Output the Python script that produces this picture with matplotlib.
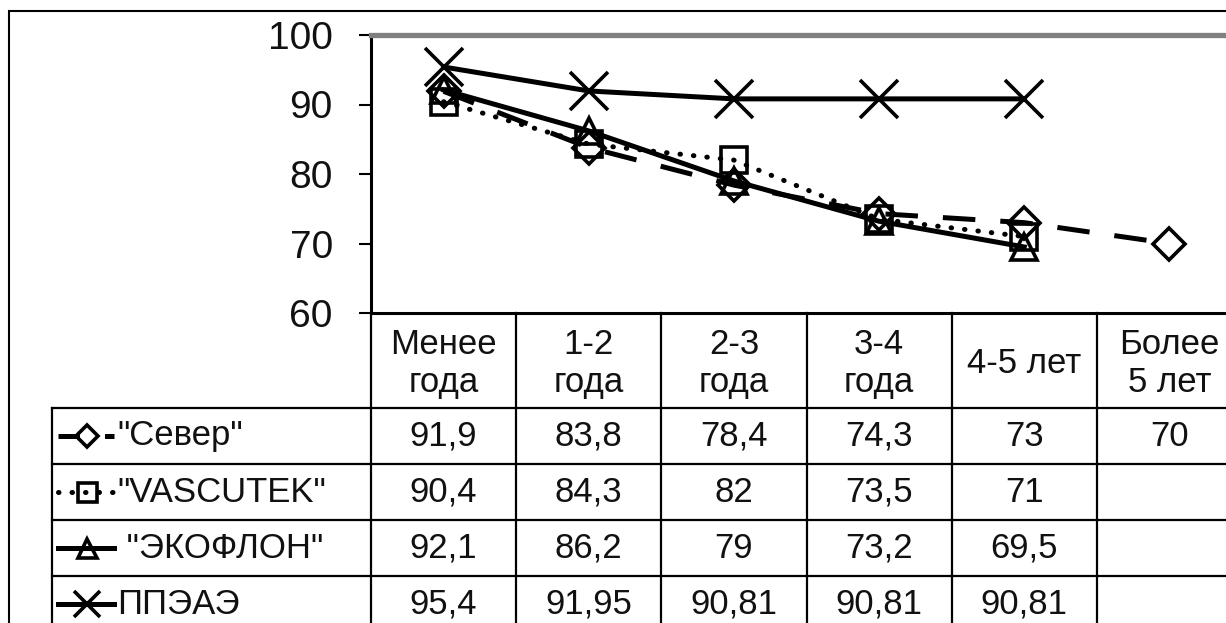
import numpy as np
import matplotlib.pyplot as plt
import matplotlib.transforms as mtransforms

plt.rcParams['font.family'] = ['Liberation Sans', 'DejaVu Sans']

# categories (column headers of the data table)
periods = ['Менее\nгода', '1-2\nгода', '2-3\nгода', '3-4\nгода', '4-5 лет', 'Более\n5 лет']

# series values
sever = [91.9, 83.8, 78.4, 74.3, 73, 70]
vascutek = [90.4, 84.3, 82, 73.5, 71, np.nan]
ekoflon = [92.1, 86.2, 79, 73.2, 69.5, np.nan]
ppeae = [95.4, 91.95, 90.81, 90.81, 90.81, np.nan]

names = ['"Север"', '"VASCUTEK"', ' "ЭКОФЛОН"', 'ППЭАЭ']
series = [sever, vascutek, ekoflon, ppeae]

# line / marker styles for each series
styles = [
    dict(ls=(0, (6.5, 5)), marker='D', ms=16),
    dict(ls=(0, (0.1, 2.6)), marker='s', ms=19, dash_capstyle='round'),
    dict(ls='-', marker='^', ms=19),
    dict(ls='-', marker='x', ms=27),
]
# legend keys in the table (Север key shows a short dash after the marker)
key_ls = [(2.2, (6.5, 5)), (0, (0.1, 2.6)), '-', '-']

W, H = 1226, 623
fig = plt.figure(figsize=(W / 100, H / 100), dpi=100)

# plot area in pixels: x 371..1242 (runs off the right edge), y 35..313
left, right, top, bottom = 371, 1242, 35, 313
ax = fig.add_axes([left / W, 1 - bottom / H, (right - left) / W, (bottom - top) / H])

x = np.arange(len(periods))
for vals, st in zip(series, styles):
    ax.plot(x, vals, color='black', lw=3.6, mfc='none', mec='black', mew=2.6,
            clip_on=False, **st)

ax.set_xlim(-0.5, len(periods) - 0.5)
ax.set_ylim(60, 100)
ax.set_yticks(np.arange(60, 101, 10))
ax.tick_params(axis='y', labelsize=28, length=8.5, width=1.5, pad=19,
               labelcolor='#111111')
ax.set_xticks([])
for s in ['left', 'bottom']:
    ax.spines[s].set_linewidth(2.2)
    ax.spines[s].set_color('black')
for s in ['top', 'right']:
    ax.spines[s].set_linewidth(3.8)
    ax.spines[s].set_color('#808080')

# data table under the plot: x in data units, y in axes units
trans = mtransforms.blended_transform_factory(ax.transData, ax.transAxes)
ph = bottom - top
head_h = 95 / ph
row_h = 56 / ph
colw = (right - left) / len(periods)
x_lab = -0.5 - (left - 52) / colw
lw_t = 1.6

def px2x(p):
    return -0.5 - (left - p) / colw

n_rows = len(series)
y_bot = -head_h - row_h * (n_rows + 1)
# vertical lines
for i in range(len(periods) + 1):
    ax.plot([i - 0.5, i - 0.5], [0, y_bot], color='black', lw=lw_t,
            transform=trans, clip_on=False)
ax.plot([x_lab, x_lab], [-head_h, y_bot], color='black', lw=lw_t,
        transform=trans, clip_on=False)
# horizontal lines
for k in range(n_rows + 1):
    yy = -head_h - row_h * k
    ax.plot([x_lab, len(periods) + 1], [yy, yy], color='black', lw=lw_t,
            transform=trans, clip_on=False)

# header text
for i, p in enumerate(periods):
    ax.text(i, -head_h / 2 - 0.012, p, ha='center', va='center', fontsize=25,
            transform=trans, color='#111111', linespacing=1.2)

# rows: legend key, label, values
for k, (nm, vals, st) in enumerate(zip(names, series, styles)):
    yc = -head_h - row_h * (k + 0.5)
    kst = {**st, 'ms': st['ms'] * 0.72, 'ls': key_ls[k]}
    ax.plot([px2x(58), px2x(87), px2x(114)], [yc, yc, yc], color='black', lw=3.6,
            mfc='none', mec='black', mew=2.6, markevery=[1],
            transform=trans, clip_on=False, **kst)
    ax.text(px2x(117), yc, nm, ha='left', va='center', fontsize=25,
            transform=trans, color='#111111')
    for i, v in enumerate(vals):
        if np.isnan(v):
            continue
        ax.text(i, yc, f'{v:g}'.replace('.', ','), ha='center', va='center',
                fontsize=25, transform=trans, color='#111111')

# outer chart frame
frame = plt.Rectangle((9 / W, -0.5), 2, 1.5 - 11 / H, transform=fig.transFigure,
                      fill=False, lw=1.5, ec='black')
fig.add_artist(frame)

fig.savefig('out.png', dpi=100)
